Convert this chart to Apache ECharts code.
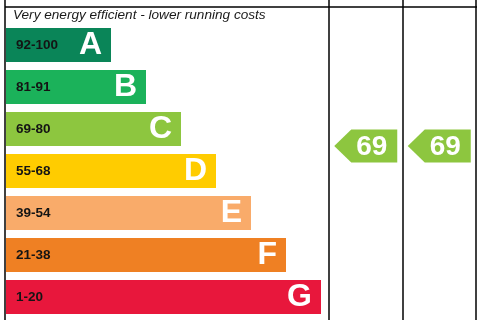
<!DOCTYPE html>
<html>
<head>
<meta charset="utf-8">
<script src="https://cdn.jsdelivr.net/npm/echarts@6/dist/echarts.min.js"></script>
<style>
  html, body { margin: 0; padding: 0; background: #fff; }
  #epc { width: 480px; height: 320px; }
</style>
</head>
<body>
<div id="epc"></div>
<script>
var dom = document.getElementById("epc");
var myChart = echarts.init(dom);

// bands, top (most efficient) to bottom
var bands = ['A', 'B', 'C', 'D', 'E', 'F', 'G'];
var ranges = ['92-100', '81-91', '69-80', '55-68', '39-54', '21-38', '1-20'];
var barLength = [3, 4, 5, 6, 7, 8, 9];
var bandColors = ['#0a8558', '#1bb25a', '#8dc63f', '#ffcc00', '#f9ab6a', '#ef8023', '#e8173c'];

// rating columns
var columns = ['Current', 'Potential'];
var ratings = [69, 69];
var ratingBand = [69, 80]; // range of the band the ratings fall in (C)

var font = 'Liberation Sans, Arial, sans-serif';
var arrowPath = 'path://M0,16.5 L17,0 L63,0 L63,33 L17,33 Z';

var option = {
    backgroundColor: '#fff',
    animation: false,
    title: {
        text: 'Very energy efficient - lower running costs',
        left: 13,
        top: 8,
        padding: 0,
        textStyle: {
            fontFamily: font,
            fontStyle: 'italic',
            fontWeight: 'normal',
            fontSize: 13.6,
            color: '#1a1a1a'
        }
    },
    grid: [
        { left: 6, top: 24, width: 315, height: 294 },
        { left: 329, top: 112, width: 147, height: 34 }
    ],
    xAxis: [
        { gridIndex: 0, type: 'value', min: 0, max: 9, show: false },
        { gridIndex: 1, type: 'category', data: columns, show: false }
    ],
    yAxis: [
        { gridIndex: 0, type: 'category', data: bands, inverse: true, show: false },
        { gridIndex: 1, type: 'value', min: ratingBand[0], max: ratingBand[1], show: false }
    ],
    series: [
        {
            type: 'bar',
            xAxisIndex: 0,
            yAxisIndex: 0,
            barWidth: 34,
            data: barLength.map(function (v, i) {
                return { value: v, itemStyle: { color: bandColors[i] } };
            }),
            label: {
                show: true,
                position: 'insideLeft',
                distance: 10,
                formatter: function (p) { return ranges[p.dataIndex]; },
                fontFamily: font,
                fontWeight: 'bold',
                fontSize: 13.5,
                color: '#141414'
            }
        },
        {
            type: 'bar',
            xAxisIndex: 0,
            yAxisIndex: 0,
            barWidth: 34,
            barGap: '-100%',
            itemStyle: { color: 'rgba(0,0,0,0)' },
            data: barLength,
            label: {
                show: true,
                position: 'insideRight',
                distance: 9,
                formatter: function (p) { return bands[p.dataIndex]; },
                fontFamily: font,
                fontWeight: 'bold',
                fontSize: 32,
                color: '#fff'
            }
        },
        {
            type: 'scatter',
            xAxisIndex: 1,
            yAxisIndex: 1,
            clip: false,
            symbol: arrowPath,
            symbolSize: [63, 33],
            itemStyle: { color: '#8dc63f', opacity: 1 },
            data: ratings.map(function (v, i) { return [columns[i], v]; }),
            label: {
                show: true,
                position: 'inside',
                offset: [6, 1],
                formatter: function (p) { return p.value[1]; },
                fontFamily: font,
                fontWeight: 'bold',
                fontSize: 28,
                color: '#fff'
            }
        }
    ],
    graphic: [
        { type: 'line', shape: { x1: 5, y1: 7, x2: 477, y2: 7 }, style: { stroke: '#000', lineWidth: 1.5 } },
        { type: 'line', shape: { x1: 5, y1: 0, x2: 5, y2: 320 }, style: { stroke: '#000', lineWidth: 1.5 } },
        { type: 'line', shape: { x1: 329, y1: 0, x2: 329, y2: 320 }, style: { stroke: '#000', lineWidth: 1.5 } },
        { type: 'line', shape: { x1: 403, y1: 0, x2: 403, y2: 320 }, style: { stroke: '#000', lineWidth: 1.5 } },
        { type: 'line', shape: { x1: 476, y1: 0, x2: 476, y2: 320 }, style: { stroke: '#000', lineWidth: 1.5 } }
    ]
};

if (option && typeof option === "object") {
    myChart.setOption(option, true);
}
</script>
</body>
</html>
